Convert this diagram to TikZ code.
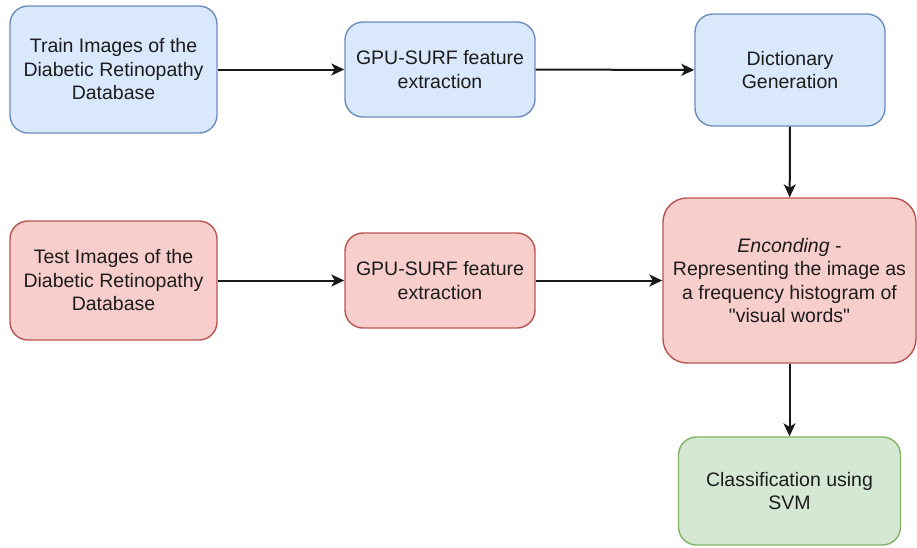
\documentclass[tikz,border=0pt]{standalone}
\usepackage{fontspec}
\setmainfont{Liberation Sans}[Ligatures=TeXOff]
\usetikzlibrary{arrows.meta}
\definecolor{blueFill}{HTML}{DAE8FC}
\definecolor{blueLine}{HTML}{6C8EBF}
\definecolor{redFill}{HTML}{F8CECC}
\definecolor{redLine}{HTML}{B85450}
\definecolor{greenFill}{HTML}{D5E8D4}
\definecolor{greenLine}{HTML}{82B366}
\definecolor{txt}{HTML}{1C1C1C}
\tikzset{
  box/.style={draw, line width=1.4pt, rounded corners=18pt, align=center,
    text=txt, font=\fontsize{19.5pt}{23.5pt}\selectfont, inner sep=0pt},
  bluebox/.style={box, fill=blueFill, draw=blueLine},
  redbox/.style={box, fill=redFill, draw=redLine},
  greenbox/.style={box, fill=greenFill, draw=greenLine},
  flow/.style={line width=2pt, draw=black!90,
    -{Stealth[length=13pt, width=12pt, inset=3.5pt]}}
}
\begin{document}
\begin{tikzpicture}[x=1pt, y=-1pt]
  \useasboundingbox (0,0) rectangle (917,547);
  % training branch
  \node[bluebox, minimum width=207pt, minimum height=127pt] (train) at (113.5,69.5)
    {Train Images of the\\Diabetic Retinopathy\\Database};
  \node[bluebox, minimum width=190pt, minimum height=95pt] (surfA) at (440,69.5)
    {GPU-SURF feature\\extraction};
  \node[bluebox, minimum width=190pt, minimum height=112pt] (dict) at (790,70)
    {Dictionary\\Generation};
  % testing branch
  \node[redbox, minimum width=207pt, minimum height=119pt] (test) at (113.5,280.5)
    {Test Images of the\\Diabetic Retinopathy\\Database};
  \node[redbox, minimum width=190pt, minimum height=95pt] (surfB) at (440,280.5)
    {GPU-SURF feature\\extraction};
  \node[redbox, rounded corners=24pt, minimum width=253pt, minimum height=165pt] (enc) at (789.5,280.5)
    {\textit{Enconding} -\\Representing the image as\\a frequency histogram of\\"visual words"};
  % classifier
  \node[greenbox, minimum width=222pt, minimum height=108pt] (svm) at (789.5,491)
    {Classification using\\SVM};
  % connectors
  \draw[flow] (train) -- (surfA);
  \draw[flow] (surfA) -- (dict);
  \draw[flow] (dict) -- (enc);
  \draw[flow] (test) -- (surfB);
  \draw[flow] (surfB) -- (enc);
  \draw[flow] (enc) -- (svm);
\end{tikzpicture}
\end{document}
